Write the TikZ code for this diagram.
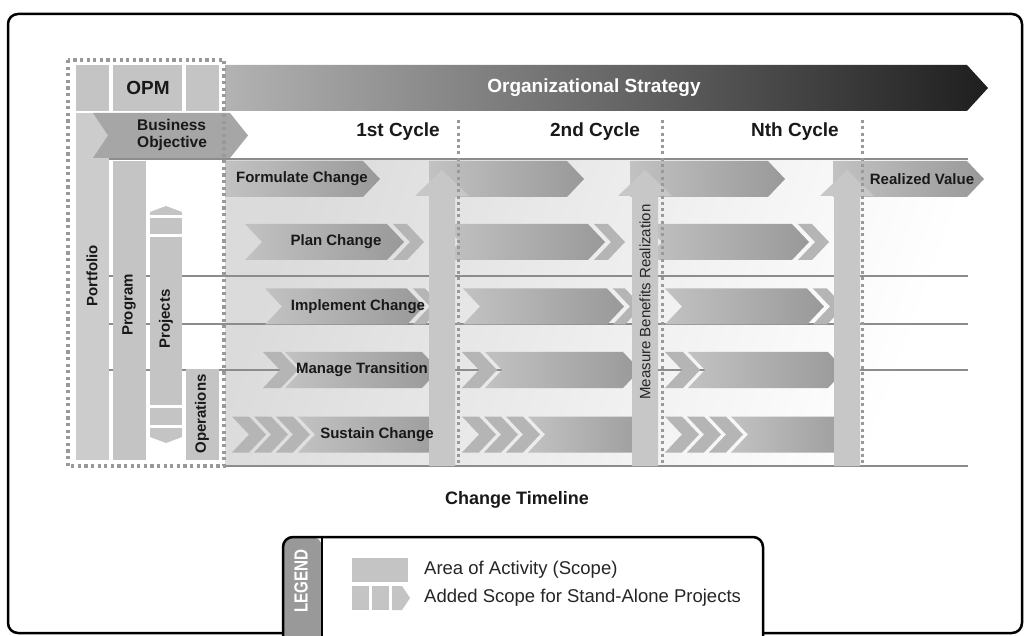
\documentclass[tikz,border=0pt]{standalone}
\usepackage{fontspec}
\setmainfont{Liberation Sans}
\newfontfamily\condfont[FakeStretch=0.8]{Liberation Sans}
\usetikzlibrary{positioning}

% arrow pieces: x left, x end of body, y centre
\newcommand{\flatarr}[3]{\shade[act] (#1,#3-18) -- (#2,#3-18) -- (#2+17,#3) -- (#2,#3+18) -- (#1,#3+18) -- cycle;}
\newcommand{\notcharr}[3]{\shade[act] (#1,#3-18) -- (#2,#3-18) -- (#2+17,#3) -- (#2,#3+18) -- (#1,#3+18) -- (#1+17,#3) -- cycle;}
% chevron piece: x left, width, y centre
\newcommand{\chevp}[3]{\fill[chev] (#1,#3-18) -- (#1+#2,#3-18) -- (#1+#2+17,#3) -- (#1+#2,#3+18) -- (#1,#3+18) -- (#1+17,#3) -- cycle;}
% measuring arrow: x centre
\newcommand{\measarr}[1]{\fill[uparr] (#1-13,466) -- (#1-13,196) -- (#1-27,196) -- (#1,170) -- (#1+27,196) -- (#1+13,196) -- (#1+13,466) -- cycle;}

\begin{document}
\begin{tikzpicture}[x=1pt, y=-1pt,
    act/.style = {left color=black!24, right color=black!40},
    chev/.style = {fill=black!29},
    uparr/.style = {fill=black!22},
    cell/.style = {fill=black!23},
    opmdots/.style = {draw=black!40, line width=3.5pt, dash pattern=on 3.3pt off 3.3pt},
    cycdots/.style = {draw=black!40, line width=3pt, dash pattern=on 3pt off 3.3pt},
    rowline/.style = {draw=black!45, line width=1.4pt},
    lbl/.style = {font=\bfseries\fontsize{15}{16}\selectfont, text=black!90, inner sep=0pt},
    big/.style = {font=\bfseries\fontsize{19}{20}\selectfont, text=black!90, inner sep=0pt},
    plain/.style = {font=\fontsize{18.5}{20}\selectfont, text=black!85, inner sep=0pt}]
\useasboundingbox (0,0) rectangle (1031,636);
\clip (0,0) rectangle (1031,636);

% frame
\draw[line width=2.5pt, rounded corners=10pt] (8,14) rectangle (1022,633);

% background and rows
\shade[left color=black!14, right color=white, shading angle=70] (225,159) rectangle (962,466);
\draw[rowline] (109,159) -- (968,159);
\draw[rowline] (109,276) -- (968,276);
\draw[rowline] (109,324) -- (968,324);
\draw[rowline] (109,370) -- (968,370);
\draw[rowline] (225,466) -- (968,466);

% strategy arrow
\shade[left color=black!30, right color=black!88] (225,65) -- (967,65) -- (988,88) -- (967,111) -- (225,111) -- cycle;
\node[big, text=white] (strategy) at (594,88) {Organizational Strategy};

% OPM columns
\fill[cell] (76,65) rectangle (109,111);
\fill[cell] (113,65) rectangle (182,111);
\fill[cell] (186,65) rectangle (219,111);
\node[big] (opm) at (148,88) {OPM};
\fill[black!20] (76,113) rectangle (109,460);
\fill[cell] (113,161) rectangle (146,460);
\fill[cell] (150,215) -- (150,212) -- (166,206) -- (182,212) -- (182,215) -- cycle;
\fill[cell] (150,218) rectangle (182,234);
\fill[cell] (150,237) rectangle (182,405);
\fill[cell] (150,408) rectangle (182,425);
\fill[cell] (150,428) -- (182,428) -- (182,437) -- (166,443) -- (150,437) -- cycle;
\fill[cell] (186,369) rectangle (219,460);
\fill[black!35] (93,113) -- (230,113) -- (248,135.5) -- (230,158) -- (93,158) -- (108,135.5) -- cycle;
\node[lbl, font=\bfseries\fontsize{15.5}{17}\selectfont, align=left, anchor=west] (objective) at (137,135) {Business\\Objective};
\node[lbl, rotate=90] (portfolio) at (92,276) {Portfolio};
\node[lbl, rotate=90] (program) at (129,305) {Program};
\node[lbl, rotate=90] (projects) at (166,319) {Projects};
\node[lbl, rotate=90] (operations) at (202,414) {Operations};

% formulate
\flatarr{225}{363}{179}
\flatarr{429}{567}{179}
\flatarr{630}{768}{179}
\flatarr{833}{967}{179}
% plan
\notcharr{245}{387}{242} \chevp{393}{14}{242}
\notcharr{443}{588}{242} \chevp{594}{14}{242}
\notcharr{645}{792}{242} \chevp{798}{14}{242}
% implement
\notcharr{265}{407}{306.5} \chevp{413}{12}{306.5}
\notcharr{463}{607}{306.5} \chevp{613}{12}{306.5}
\notcharr{665}{807}{306.5} \chevp{813}{14}{306.5}
% transition
\chevp{263}{18}{370} \notcharr{285}{422}{370}
\chevp{462}{18}{370} \notcharr{485}{623}{370}
\chevp{665}{18}{370} \notcharr{688}{828}{370}
% sustain
\foreach \x in {232,254,276} {\chevp{\x}{17}{434.5}}
\notcharr{298}{435}{434.5}
\foreach \x in {462,484,506} {\chevp{\x}{17}{434.5}}
\notcharr{528}{640}{434.5}
\foreach \x in {665,687,709} {\chevp{\x}{17}{434.5}}
\notcharr{731}{842}{434.5}

% measuring
\measarr{442}
\measarr{645}
\measarr{847}

% dotted lines
\draw[opmdots] (68,60) rectangle (224,466);
\draw[cycdots] (458,120) -- (458,466);
\draw[cycdots] (662,120) -- (662,466);
\draw[cycdots] (862,120) -- (862,466);

\node[big] (cyc1) at (398,132) {1st Cycle};
\node[big] (cyc2) at (595,132) {2nd Cycle};
\node[big] (cycn) at (795,132) {Nth Cycle};

\node[lbl] (formulate) at (302,179) {Formulate Change};
\node[lbl] (realized) at (922,179) {Realized Value};
\node[lbl] (plan) at (336,242) {Plan Change};
\node[lbl] (implement) at (358,306.5) {Implement Change};
\node[lbl] (transition) at (362,370) {Manage Transition};
\node[lbl] (sustain) at (377,434.5) {Sustain Change};
\node[plain, rotate=90, font=\fontsize{15}{16}\selectfont] (measure) at (645,302) {Measure Benefits Realization};

\node[big, font=\bfseries\fontsize{18}{19}\selectfont] (timeline) at (517,500) {Change Timeline};

% legend
\fill[white, rounded corners=10pt] (283,537) rectangle (763,660);
\fill[black!40, rounded corners=10pt] (283,660) -- (283,537) -- (322,537) [sharp corners] -- (322,660) -- cycle;
\draw[line width=2.5pt, rounded corners=10pt] (283,660) -- (283,537) -- (763,537) -- (763,660);
\draw[line width=1.2pt] (322,537) -- (322,660);
\node[lbl, rotate=90, text=white, font=\condfont\bfseries\fontsize{19}{20}\selectfont] (legend) at (301,581) {LEGEND};
\fill[cell] (352,558) rectangle (408,582);
\fill[cell] (352,586) rectangle (369,610);
\fill[cell] (372,586) rectangle (389,610);
\fill[cell] (392,586) -- (402,586) -- (410,598) -- (402,610) -- (392,610) -- cycle;
\node[plain, anchor=west] (area) at (424,570) {Area of Activity (Scope)};
\node[plain, anchor=west] (added) at (424,598) {Added Scope for Stand-Alone Projects};
\end{tikzpicture}
\end{document}
